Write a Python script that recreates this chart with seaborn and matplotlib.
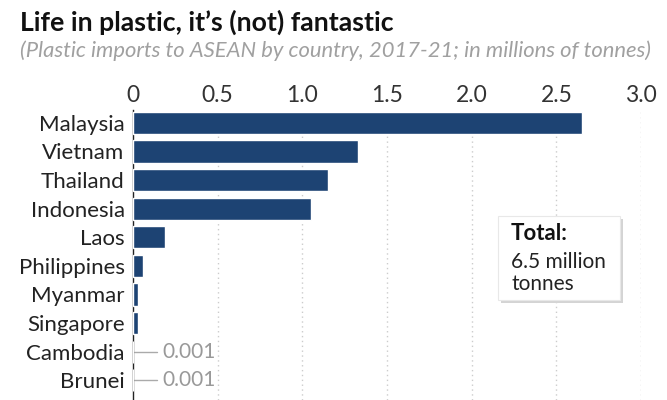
import numpy as np
import pandas as pd
import matplotlib
matplotlib.use('Agg')
import matplotlib.pyplot as plt
import seaborn as sns
from matplotlib.patches import Rectangle

# 数据
countries = ['Malaysia', 'Vietnam', 'Thailand', 'Indonesia', 'Laos',
             'Philippines', 'Myanmar', 'Singapore', 'Cambodia', 'Brunei']
imports = [2.65, 1.33, 1.15, 1.05, 0.19, 0.06, 0.03, 0.03, 0.001, 0.001]
x_ticks = [0, 0.5, 1.0, 1.5, 2.0, 2.5, 3.0]
x_tick_labels = ['0', '0.5', '1.0', '1.5', '2.0', '2.5', '3.0']

df = pd.DataFrame({'country': countries, 'imports': imports})

sns.set_theme(style='white')
plt.rcParams['font.family'] = ['Lato', 'DejaVu Sans']

bar_color = '#1d4373'

fig = plt.figure(figsize=(6.67, 4.0), dpi=100)
ax = fig.add_axes([133 / 667, 0.0, (641 - 133) / 667, 1 - 110 / 400])

sns.barplot(data=df, x='imports', y='country', orient='h', color=bar_color,
            width=0.78, saturation=1, ax=ax, zorder=3)

ax.set_xlim(0, 3.0)
ax.set_ylim(9.69, -0.45)
ax.set_xlabel('')
ax.set_ylabel('')

# 顶部刻度
ax.xaxis.tick_top()
ax.set_xticks(x_ticks)
ax.set_xticklabels(x_tick_labels, fontsize=16.5, color='#333333')
ax.tick_params(axis='x', length=0, pad=3)
ax.tick_params(axis='y', length=0, pad=6, labelsize=16, labelcolor='#222222')

for x in x_ticks[1:]:
    ax.axvline(x, color='#cccccc', lw=1, ls=(0, (1, 2.5)), zorder=1)

for s in ['top', 'right', 'bottom']:
    ax.spines[s].set_visible(False)
ax.spines['left'].set_color('#222222')
ax.spines['left'].set_linewidth(1.0)

# 极小值标注
for i, (c, v) in enumerate(zip(countries, imports)):
    if v < 0.01:
        ax.plot([0, 0.14], [i, i], color='#aaaaaa', lw=1, zorder=2)
        ax.text(0.175, i, f'{v:.3f}', va='center', ha='left',
                fontsize=15, color='#999999')

# 总计框
shadow = Rectangle((501 / 667, 1 - 303 / 400), 122 / 667, 84 / 400,
                   transform=fig.transFigure, facecolor='#d4d4d4',
                   edgecolor='none', zorder=4)
box = Rectangle((498 / 667, 1 - 300 / 400), 122 / 667, 84 / 400,
                transform=fig.transFigure, facecolor='white',
                edgecolor='#e8e8e8', lw=0.8, zorder=5)
fig.patches.extend([shadow, box])
fig.text(511 / 667, 1 - 234 / 400, 'Total:', fontsize=16, fontweight='bold',
         color='#111111', va='center', ha='left', zorder=6)
fig.text(511 / 667, 1 - 262 / 400, '6.5 million', fontsize=15, color='#222222',
         va='center', ha='left', zorder=6)
fig.text(511 / 667, 1 - 284 / 400, 'tonnes', fontsize=15, color='#222222',
         va='center', ha='left', zorder=6)

fig.text(20 / 667, 1 - 22 / 400, 'Life in plastic, it\u2019s (not) fantastic',
         fontsize=19.2, fontweight='bold', color='#111111', va='center', ha='left')
fig.text(20 / 667, 1 - 51 / 400,
         '(Plastic imports to ASEAN by country, 2017-21; in millions of tonnes)',
         fontsize=15.8, style='italic', color='#a0a0a0', va='center', ha='left')

fig.savefig('out.png', dpi=100)
